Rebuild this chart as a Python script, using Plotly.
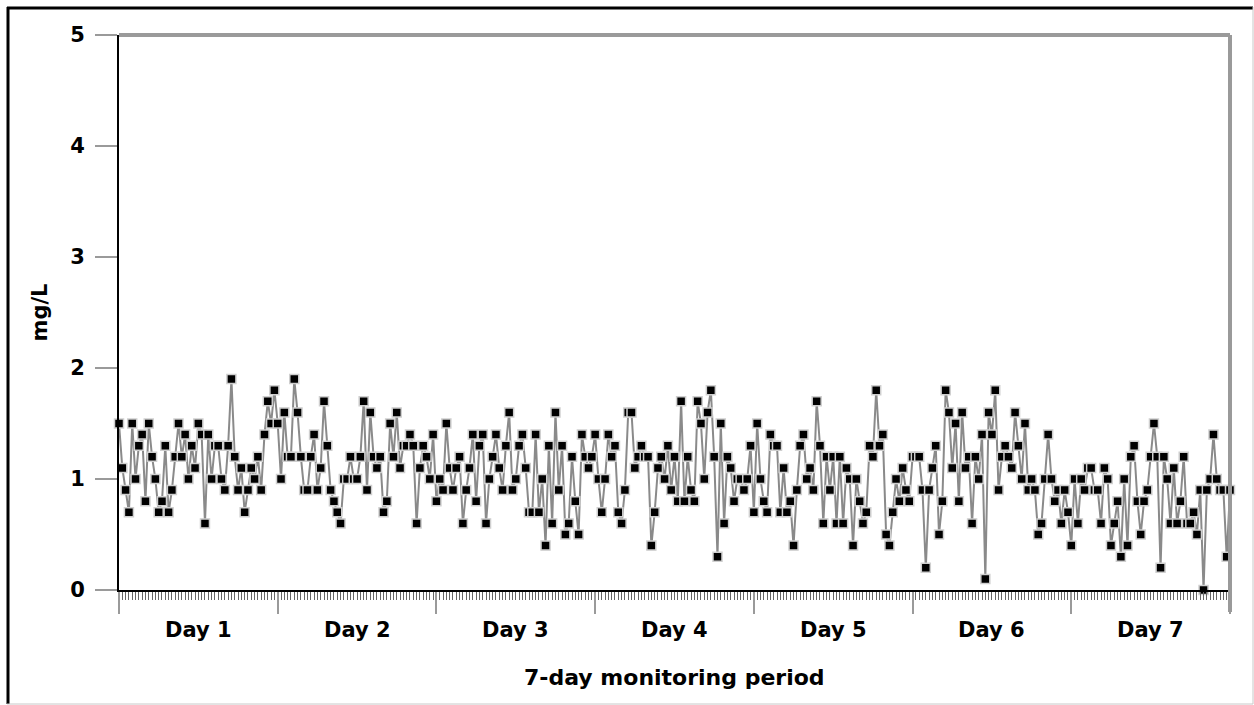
import plotly.graph_objects as go

# half-hourly readings over 7 days (mg/L)
values = [
    1.5, 1.1, 0.9, 0.7, 1.5, 1.0, 1.3, 1.4, 0.8, 1.5,
    1.2, 1.0, 0.7, 0.8, 1.3, 0.7, 0.9, 1.2, 1.5, 1.2,
    1.4, 1.0, 1.3, 1.1, 1.5, 1.4, 0.6, 1.4, 1.0, 1.3,
    1.3, 1.0, 0.9, 1.3, 1.9, 1.2, 0.9, 1.1, 0.7, 0.9,
    1.1, 1.0, 1.2, 0.9, 1.4, 1.7, 1.5, 1.8, 1.5, 1.0,
    1.6, 1.2, 1.2, 1.9, 1.6, 1.2, 0.9, 0.9, 1.2, 1.4,
    0.9, 1.1, 1.7, 1.3, 0.9, 0.8, 0.7, 0.6, 1.0, 1.0,
    1.2, 1.0, 1.0, 1.2, 1.7, 0.9, 1.6, 1.2, 1.1, 1.2,
    0.7, 0.8, 1.5, 1.2, 1.6, 1.1, 1.3, 1.3, 1.4, 1.3,
    0.6, 1.1, 1.3, 1.2, 1.0, 1.4, 0.8, 1.0, 0.9, 1.5,
    1.1, 0.9, 1.1, 1.2, 0.6, 0.9, 1.1, 1.4, 0.8, 1.3,
    1.4, 0.6, 1.0, 1.2, 1.4, 1.1, 0.9, 1.3, 1.6, 0.9,
    1.0, 1.3, 1.4, 1.1, 0.7, 0.7, 1.4, 0.7, 1.0, 0.4,
    1.3, 0.6, 1.6, 0.9, 1.3, 0.5, 0.6, 1.2, 0.8, 0.5,
    1.4, 1.2, 1.1, 1.2, 1.4, 1.0, 0.7, 1.0, 1.4, 1.2,
    1.3, 0.7, 0.6, 0.9, 1.6, 1.6, 1.1, 1.2, 1.3, 1.2,
    1.2, 0.4, 0.7, 1.1, 1.2, 1.0, 1.3, 0.9, 1.2, 0.8,
    1.7, 0.8, 1.2, 0.9, 0.8, 1.7, 1.5, 1.0, 1.6, 1.8,
    1.2, 0.3, 1.5, 0.6, 1.2, 1.1, 0.8, 1.0, 1.0, 0.9,
    1.0, 1.3, 0.7, 1.5, 1.0, 0.8, 0.7, 1.4, 1.3, 1.3,
    0.7, 1.1, 0.7, 0.8, 0.4, 0.9, 1.3, 1.4, 1.0, 1.1,
    0.9, 1.7, 1.3, 0.6, 1.2, 0.9, 1.2, 0.6, 1.2, 0.6,
    1.1, 1.0, 0.4, 1.0, 0.8, 0.6, 0.7, 1.3, 1.2, 1.8,
    1.3, 1.4, 0.5, 0.4, 0.7, 1.0, 0.8, 1.1, 0.9, 0.8,
    1.2, 1.2, 1.2, 0.9, 0.2, 0.9, 1.1, 1.3, 0.5, 0.8,
    1.8, 1.6, 1.1, 1.5, 0.8, 1.6, 1.1, 1.2, 0.6, 1.2,
    1.0, 1.4, 0.1, 1.6, 1.4, 1.8, 0.9, 1.2, 1.3, 1.2,
    1.1, 1.6, 1.3, 1.0, 1.5, 0.9, 1.0, 0.9, 0.5, 0.6,
    1.0, 1.4, 1.0, 0.8, 0.9, 0.6, 0.9, 0.7, 0.4, 1.0,
    0.6, 1.0, 0.9, 1.1, 1.1, 0.9, 0.9, 0.6, 1.1, 1.0,
    0.4, 0.6, 0.8, 0.3, 1.0, 0.4, 1.2, 1.3, 0.8, 0.5,
    0.8, 0.9, 1.2, 1.5, 1.2, 0.2, 1.2, 1.0, 0.6, 1.1,
    0.6, 0.8, 1.2, 0.6, 0.6, 0.7, 0.5, 0.9, 0.0, 0.9,
    1.0, 1.4, 1.0, 0.9, 0.9, 0.3, 0.9,
]
samples = list(range(len(values)))  # half-hour index
day_labels = ["Day 1", "Day 2", "Day 3", "Day 4", "Day 5", "Day 6", "Day 7"]
day_bounds = [0, 48, 96, 144, 192, 240, 288, 336]
y_ticks = [0, 1, 2, 3, 4, 5]

FONT = "DejaVu Sans"
W, H = 1254, 705
L, R, T, B = 119, 1230, 35, 590
pw, ph = R - L, B - T

def px(xp):
    return (xp - L) / pw

def py(yp):
    return (B - yp) / ph

fig = go.Figure()
fig.add_trace(go.Scatter(
    x=samples, y=values, mode="lines+markers",
    line=dict(color="#8a8a8a", width=2),
    marker=dict(symbol="square", size=9, color="black",
                line=dict(color="#cfcfcf", width=1.5)),
    cliponaxis=False, showlegend=False,
))

annotations = []
for i, lab in enumerate(day_labels):
    annotations.append(dict(
        x=(day_bounds[i] + day_bounds[i + 1]) / 2, xref="x",
        y=py(630), yref="paper", text=lab, showarrow=False,
        font=dict(family=FONT, size=21, color="black", weight="bold"),
        xanchor="center", yanchor="middle"))
annotations.append(dict(
    x=0.5, xref="paper", y=py(677), yref="paper",
    text="7-day monitoring period", showarrow=False,
    font=dict(family=FONT, size=22, color="black", weight="bold"),
    xanchor="center", yanchor="middle"))
annotations.append(dict(
    x=px(39), xref="paper", y=0.5, yref="paper",
    text="mg/L", showarrow=False, textangle=-90,
    font=dict(family=FONT, size=21, color="black", weight="bold"),
    xanchor="center", yanchor="middle"))

shapes = [
    # top and right grey frame of plot area
    dict(type="line", xref="paper", yref="paper", x0=0, x1=1, y0=1, y1=1,
         line=dict(color="#9a9a9a", width=4)),
    dict(type="line", xref="paper", yref="paper", x0=1, x1=1, y0=py(612), y1=1,
         line=dict(color="#9a9a9a", width=4)),
    # outer figure frame
    dict(type="line", xref="paper", yref="paper", x0=px(8), x1=px(8),
         y0=py(704), y1=py(7), line=dict(color="black", width=3)),
    dict(type="line", xref="paper", yref="paper", x0=px(7), x1=px(1253),
         y0=py(8), y1=py(8), line=dict(color="black", width=3)),
    dict(type="line", xref="paper", yref="paper", x0=px(1253), x1=px(1253),
         y0=py(704), y1=py(7), line=dict(color="#c8c8c8", width=1)),
    dict(type="line", xref="paper", yref="paper", x0=px(7), x1=px(1253),
         y0=py(704), y1=py(704), line=dict(color="#c8c8c8", width=1)),
]

fig.update_layout(
    width=W, height=H,
    margin=dict(l=L, r=W - R, t=T, b=H - B, pad=0),
    paper_bgcolor="white", plot_bgcolor="white",
    annotations=annotations, shapes=shapes,
    xaxis=dict(
        range=[0, 336], showgrid=False, zeroline=False,
        showline=True, linecolor="black", linewidth=2,
        tickmode="array", tickvals=day_bounds, ticktext=[""] * len(day_bounds),
        ticks="outside", ticklen=22, tickcolor="#9a9a9a", tickwidth=2,
        minor=dict(dtick=1, tick0=0, ticks="outside", ticklen=8,
                   tickcolor="#666666", tickwidth=1, showgrid=False),
    ),
    yaxis=dict(
        range=[0, 5], showgrid=False, zeroline=False,
        showline=True, linecolor="black", linewidth=2,
        tickmode="array", tickvals=y_ticks, ticktext=[str(v) for v in y_ticks],
        ticks="outside", ticklen=22, tickcolor="#9a9a9a", tickwidth=2,
        ticklabelstandoff=6,
        tickfont=dict(family=FONT, size=21, color="black", weight="bold"),
    ),
)

fig.write_html("out.html")
